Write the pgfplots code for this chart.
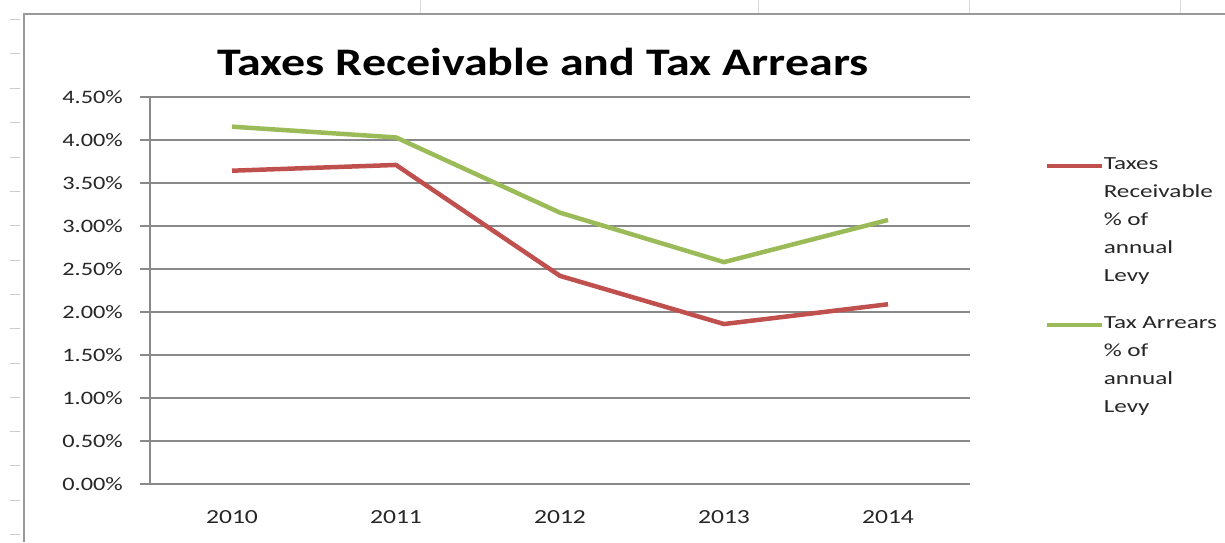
\documentclass[border=0pt]{standalone}
\usepackage{pgfplots}
\pgfplotsset{compat=1.18}
\usepackage{fontspec}
\setmainfont{Carlito}[FakeStretch=1.28]
\newfontfamily\titlefont{Carlito}[FakeStretch=1.23]
\newfontfamily\legfont{Carlito}[FakeStretch=1.36]
\definecolor{xlred}{HTML}{C0504D}
\definecolor{xlgreen}{HTML}{9BBB59}
\definecolor{gridgray}{HTML}{898989}
\begin{document}
\begin{tikzpicture}
\useasboundingbox (0pt,0pt) rectangle (1225pt,542pt);
% spreadsheet background decorations
\foreach \yy in {20,54,89,123,157,191,225,260,294,328,363,397,431,465,500,534}
  \draw[gray!40,line width=1pt] (10pt,542pt-\yy pt) -- (20pt,542pt-\yy pt);
\foreach \xx in {420,758,969,1180}
  \draw[gray!30,line width=1pt] (\xx pt,542pt) -- (\xx pt,528pt);
\draw[gray!80,line width=1.5pt] (24pt,0pt) -- (24pt,528pt) -- (1225pt,528pt);
\node[font=\titlefont\fontsize{39}{44}\selectfont\bfseries,anchor=center] at (543pt,480pt) {Taxes Receivable and Tax Arrears};
\begin{axis}[
  at={(150pt,58pt)}, anchor=south west,
  scale only axis, width=820pt, height=387pt,
  xmin=-0.5, xmax=4.5, ymin=0, ymax=4.5,
  axis x line*=bottom, axis y line*=left,
  axis line style={gridgray, line width=1.5pt},
  xtick={0,1,2,3,4},
  xticklabels={2010,2011,2012,2013,2014},
  minor xtick={-0.5,0.5,1.5,2.5,3.5,4.5},
  xtick style={draw=none},
  minor x tick style={gridgray, line width=1.5pt},
  minor tick length=8pt,
  ytick={0,0.5,...,4.5},
  yticklabels={0.00\%,0.50\%,1.00\%,1.50\%,2.00\%,2.50\%,3.00\%,3.50\%,4.00\%,4.50\%},
  y tick style={gridgray, line width=1.5pt},
  major tick length=10pt,
  tick align=outside,
  ymajorgrids,
  major grid style={gridgray, line width=1.5pt},
  ticklabel style={font=\fontsize{19}{22}\selectfont, text=black!85},
  yticklabel style={inner sep=0pt, xshift=-17pt},
  xticklabel style={inner sep=0pt, yshift=-16pt, font=\fontsize{20}{22}\selectfont},
  legend style={at={(1.0903,0.864)}, anchor=north west, draw=none, fill=none,
    font=\legfont\fontsize{18.5}{28}\selectfont, row sep=19pt, inner sep=0pt,
    column sep=0pt,
    nodes={inner sep=0pt, text depth=, text=black!85},
    cells={anchor=base west}},
  legend image code/.code={\draw[#1] (0pt,0.33em) -- (55pt,0.33em);},
  every axis plot/.append style={line width=4.5pt, line join=round},
  clip=false,
]
\addplot[xlred] coordinates {(0,3.643) (1,3.71) (2,2.42) (3,1.86) (4,2.09)};
\addlegendentry{\begin{tabular}[t]{@{}l@{}}Taxes\\Receivable\\\% of\\annual\\Levy\end{tabular}}
\addplot[xlgreen] coordinates {(0,4.155) (1,4.03) (2,3.155) (3,2.58) (4,3.07)};
\addlegendentry{\begin{tabular}[t]{@{}l@{}}Tax Arrears\\\% of\\annual\\Levy\end{tabular}}
\end{axis}
\end{tikzpicture}
\end{document}
